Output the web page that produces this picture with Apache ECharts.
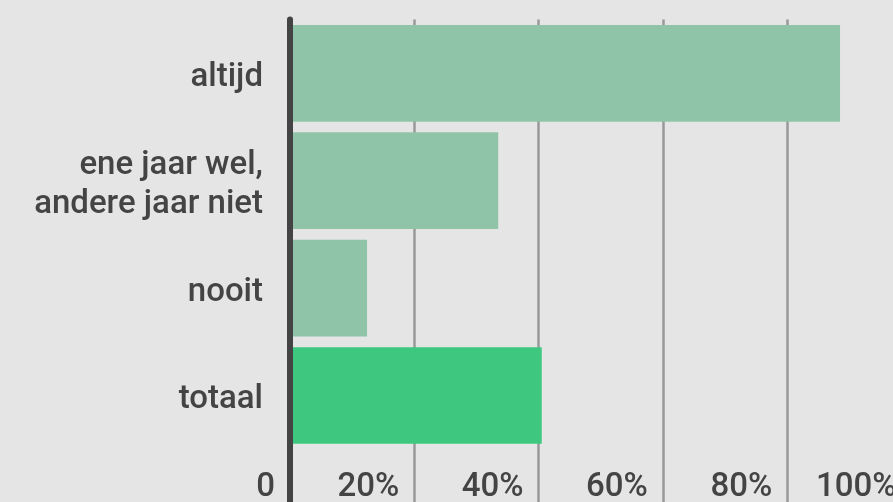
<!DOCTYPE html>
<html>
<head>
<meta charset="utf-8">
<script src="https://cdn.jsdelivr.net/npm/echarts@6/dist/echarts.min.js"></script>
<style>
  html, body { margin: 0; padding: 0; background: #e5e5e5; }
  #chart { width: 893px; height: 502px; }
</style>
</head>
<body>
<div id="chart"></div>
<script>
// categories from bottom to top; the empty one leaves room for the tick labels
const categories = ['', 'totaal', 'nooit', 'ene jaar wel,\nandere jaar niet', 'altijd'];
const percentages = ['-', 40.5, 12.4, 33.5, 88.5];
const barColors = ['#8fc4a9', '#3ec87f', '#8fc4a9', '#8fc4a9', '#8fc4a9'];

const chart = echarts.init(document.getElementById('chart'));

chart.setOption({
  backgroundColor: '#e5e5e5',
  animation: false,
  grid: {
    left: 290,
    top: 19.6,
    width: 621.5,
    height: 537,
    containLabel: false,
    outerBoundsMode: 'none'
  },
  xAxis: {
    type: 'value',
    min: 0,
    max: 100,
    interval: 20,
    axisLine: { show: false },
    axisTick: { show: false },
    splitLine: {
      show: true,
      lineStyle: { color: '#999999', width: 2.5 }
    },
    axisLabel: {
      inside: true,
      margin: 52,
      align: 'right',
      padding: [0, 15, 0, 0],
      color: '#444444',
      fontFamily: 'Roboto',
      fontWeight: 500,
      fontSize: 33,
      formatter: v => (v === 0 ? '0' : v + '%')
    }
  },
  yAxis: {
    type: 'category',
    data: categories,
    z: 5,
    axisLine: {
      show: true,
      lineStyle: { color: '#444444', width: 6 }
    },
    axisTick: { show: false },
    axisLabel: {
      margin: 27,
      align: 'right',
      // push the text a few pixels down, as in the original
      formatter: v => v.split('\n').map(s => '{t|' + s + '}').join('\n'),
      rich: {
        t: {
          color: '#444444',
          fontFamily: 'Roboto',
          fontWeight: 500,
          fontSize: 33,
          lineHeight: 39,
          padding: [9, 0, 0, 0]
        }
      }
    }
  },
  series: [
    {
      type: 'bar',
      barCategoryGap: '10%',
      data: percentages.map((v, i) => ({
        value: v,
        itemStyle: { color: barColors[i] }
      }))
    }
  ]
});
</script>
</body>
</html>
